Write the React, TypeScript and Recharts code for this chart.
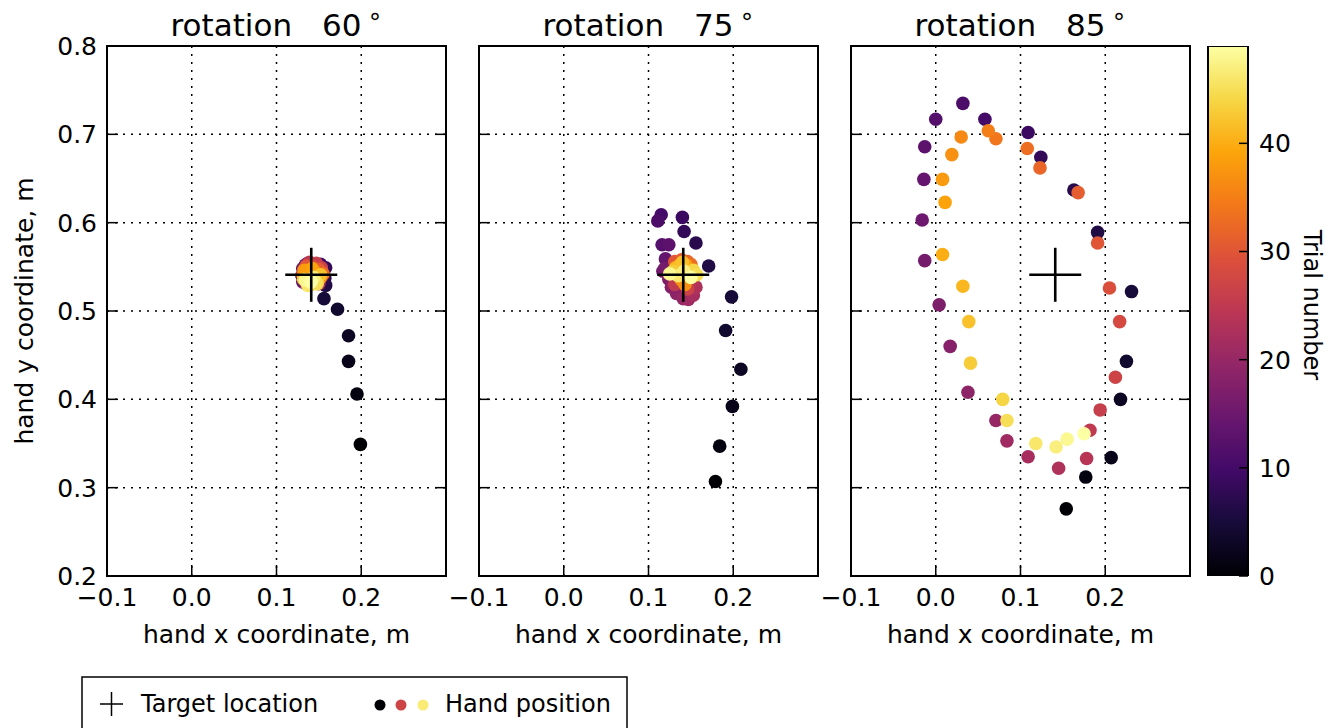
import React from 'react';
import {
  ScatterChart,
  Scatter,
  XAxis,
  YAxis,
  CartesianGrid,
  ReferenceArea,
  BarChart,
  Bar,
} from 'recharts';

// Axis ticks shared by the three panels
const xTicks = [-0.1, 0, 0.1, 0.2];
const yTicks = [0.2, 0.3, 0.4, 0.5, 0.6, 0.7, 0.8];
const trialTicks = [0, 10, 20, 30, 40];
const lastTrial = 49;

const target = [{ x: 0.141, y: 0.541 }];

// Hand end position per trial (index = trial number), [x, y] in metres
const hand60: [number, number][] = [
  [0.199, 0.349], [0.195, 0.406], [0.185, 0.443], [0.185, 0.472], [0.172, 0.502],
  [0.156, 0.514], [0.158, 0.529], [0.157, 0.537], [0.158, 0.549], [0.152, 0.553],
  [0.130, 0.540], [0.131, 0.548], [0.153, 0.545], [0.134, 0.552], [0.131, 0.533],
  [0.145, 0.553], [0.137, 0.554], [0.150, 0.536], [0.134, 0.545], [0.146, 0.549],
  [0.154, 0.540], [0.132, 0.538], [0.141, 0.553], [0.150, 0.531], [0.135, 0.531],
  [0.139, 0.555], [0.147, 0.554], [0.153, 0.549], [0.132, 0.547], [0.143, 0.550],
  [0.135, 0.551], [0.150, 0.547], [0.138, 0.546], [0.155, 0.542], [0.131, 0.541],
  [0.145, 0.545], [0.138, 0.540], [0.152, 0.538], [0.133, 0.546], [0.142, 0.548],
  [0.147, 0.535], [0.136, 0.534], [0.152, 0.541], [0.132, 0.536], [0.141, 0.530],
  [0.148, 0.531], [0.137, 0.529], [0.144, 0.538], [0.134, 0.535], [0.141, 0.533],
];

const hand75: [number, number][] = [
  [0.179, 0.307], [0.184, 0.347], [0.199, 0.392], [0.209, 0.434], [0.191, 0.478],
  [0.198, 0.516], [0.171, 0.551], [0.156, 0.577], [0.142, 0.590], [0.140, 0.606],
  [0.115, 0.609], [0.111, 0.602], [0.116, 0.575], [0.124, 0.575], [0.120, 0.559],
  [0.117, 0.545], [0.119, 0.548], [0.124, 0.536], [0.127, 0.527], [0.133, 0.520],
  [0.141, 0.514], [0.147, 0.513], [0.153, 0.518], [0.156, 0.527], [0.151, 0.534],
  [0.131, 0.530], [0.126, 0.542], [0.146, 0.525], [0.155, 0.540], [0.135, 0.553],
  [0.131, 0.556], [0.139, 0.558], [0.146, 0.556], [0.150, 0.553], [0.140, 0.548],
  [0.147, 0.544], [0.139, 0.535], [0.143, 0.530], [0.134, 0.543], [0.144, 0.552],
  [0.137, 0.552], [0.132, 0.549], [0.140, 0.555], [0.129, 0.545], [0.153, 0.546],
  [0.157, 0.541], [0.135, 0.540], [0.142, 0.545], [0.125, 0.542], [0.150, 0.538],
];

const hand85: [number, number][] = [
  [0.154, 0.276], [0.177, 0.312], [0.207, 0.334], [0.218, 0.400], [0.225, 0.443],
  [0.231, 0.522], [0.191, 0.589], [0.163, 0.637], [0.124, 0.674], [0.109, 0.702],
  [0.058, 0.717], [0.032, 0.735], [0.000, 0.717], [-0.013, 0.686], [-0.014, 0.649],
  [-0.016, 0.603], [-0.013, 0.557], [0.004, 0.507], [0.017, 0.460], [0.038, 0.408],
  [0.071, 0.376], [0.084, 0.353], [0.109, 0.335], [0.145, 0.322], [0.178, 0.333],
  [0.182, 0.365], [0.194, 0.388], [0.212, 0.425], [0.217, 0.488], [0.205, 0.526],
  [0.191, 0.577], [0.168, 0.634], [0.123, 0.662], [0.108, 0.684], [0.071, 0.695],
  [0.062, 0.704], [0.030, 0.697], [0.019, 0.677], [0.008, 0.649], [0.011, 0.623],
  [0.008, 0.564], [0.032, 0.528], [0.039, 0.488], [0.041, 0.441], [0.079, 0.400],
  [0.084, 0.376], [0.118, 0.350], [0.142, 0.346], [0.155, 0.355], [0.175, 0.361],
];

const rotations = [60, 75, 85];
const handSets = [hand60, hand75, hand85];

// matplotlib "inferno" sampled at 0, 0.1 ... 1
const INFERNO = [
  '#000004', '#160b39', '#420a68', '#6a176e', '#932667', '#bc3754',
  '#dd513a', '#f37819', '#fca50a', '#f6d746', '#fcffa4',
];

function inferno(t: number) {
  const s = Math.max(0, Math.min(1, t)) * 10;
  const i = Math.min(9, Math.floor(s));
  const f = s - i;
  const a = parseInt(INFERNO[i].slice(1), 16);
  const b = parseInt(INFERNO[i + 1].slice(1), 16);
  const ch = (v: number, sh: number) => (v >> sh) & 255;
  const mix = (sh: number) => Math.round(ch(a, sh) + (ch(b, sh) - ch(a, sh)) * f);
  return `rgb(${mix(16)},${mix(8)},${mix(0)})`;
}

const fmt = (v: number) => (v < 0 ? '\u2212' : '') + Math.abs(v).toFixed(1);
const blank = () => '';

// layout
const CHART_H = 660;
const PLOT_TOP = 46;
const PLOT_BOTTOM = 576;
const X_AXIS_H = 70;
const FONT = 'DejaVu Sans';
const FS = 25;

const panels = [
  { left: 0, width: 470, plotL: 107, plotR: 446 },
  { left: 440, width: 400, plotL: 479, plotR: 818 },
  { left: 810, width: 400, plotL: 851, plotR: 1190 },
];

const tickStyle = { fontSize: FS, fill: '#000', fontFamily: FONT };
const tickLine = { stroke: '#000', strokeWidth: 1.5 };

const HandDot = (p: any) => (
  <circle cx={p.cx} cy={p.cy} r={6.8} fill={inferno(p.payload.trial / lastTrial)} />
);

const TargetCross = (p: any) => (
  <g stroke="#000" strokeWidth={2.6}>
    <line x1={p.cx - 26} x2={p.cx + 26} y1={p.cy} y2={p.cy} />
    <line x1={p.cx} x2={p.cx} y1={p.cy - 27} y2={p.cy + 27} />
  </g>
);

function Panel({ idx }: { idx: number }) {
  const g = panels[idx];
  const showY = idx === 0;
  const yW = showY ? 60 : 1;
  const data = handSets[idx].map(([x, y], trial) => ({ x, y, trial }));
  return (
    <div style={{ position: 'absolute', left: g.left, top: 0 }}>
      <ScatterChart
        width={g.width}
        height={CHART_H}
        margin={{
          top: PLOT_TOP - 1,
          bottom: CHART_H - PLOT_BOTTOM - X_AXIS_H,
          left: g.plotL - g.left - yW,
          right: g.left + g.width - g.plotR - 1,
        }}
      >
        <CartesianGrid stroke="#000" strokeWidth={1.5} strokeDasharray="2 6" />
        <XAxis
          type="number"
          dataKey="x"
          domain={[-0.1, 0.3]}
          ticks={xTicks}
          interval={0}
          allowDataOverflow
          height={X_AXIS_H}
          axisLine={false}
          tickSize={-11}
          tickMargin={23}
          tickLine={tickLine}
          tick={tickStyle}
          tickFormatter={fmt}
          label={{
            value: 'hand x coordinate, m',
            position: 'insideBottom',
            offset: 3,
            style: { fontSize: FS, fill: '#000', fontFamily: FONT },
          }}
        />
        <XAxis
          xAxisId="top"
          orientation="top"
          type="number"
          domain={[-0.1, 0.3]}
          ticks={xTicks}
          interval={0}
          allowDataOverflow
          height={1}
          axisLine={false}
          tickSize={-11}
          tickLine={tickLine}
          tickFormatter={blank}
        />
        <YAxis
          type="number"
          dataKey="y"
          domain={[0.2, 0.8]}
          ticks={yTicks}
          interval={0}
          allowDataOverflow
          width={yW}
          axisLine={false}
          tickSize={-11}
          tickMargin={21}
          tickLine={tickLine}
          tick={tickStyle}
          tickFormatter={showY ? fmt : blank}
        />
        <YAxis
          yAxisId="right"
          orientation="right"
          type="number"
          domain={[0.2, 0.8]}
          ticks={yTicks}
          interval={0}
          allowDataOverflow
          width={1}
          axisLine={false}
          tickSize={-11}
          tickLine={tickLine}
          tickFormatter={blank}
        />
        <ReferenceArea
          x1={-0.1}
          x2={0.3}
          y1={0.2}
          y2={0.8}
          fill="none"
          fillOpacity={0}
          stroke="#000"
          strokeWidth={2}
        />
        <Scatter data={data} shape={HandDot} isAnimationActive={false} />
        <Scatter data={target} shape={TargetCross} isAnimationActive={false} />
      </ScatterChart>
    </div>
  );
}

function Colorbar() {
  return (
    <div style={{ position: 'absolute', left: 1190, top: 0 }}>
      <BarChart
        width={147}
        height={CHART_H}
        data={[{ name: 'trials', value: lastTrial }]}
        margin={{ top: PLOT_TOP, bottom: CHART_H - PLOT_BOTTOM, left: 18, right: 9 }}
        barCategoryGap={0}
      >
        <defs>
          <linearGradient id="infernoBar" x1="0" y1="1" x2="0" y2="0">
            {INFERNO.map((c, i) => (
              <stop key={c} offset={i / (INFERNO.length - 1)} stopColor={c} />
            ))}
          </linearGradient>
        </defs>
        <XAxis dataKey="name" hide />
        <Bar
          dataKey="value"
          fill="url(#infernoBar)"
          stroke="#000"
          strokeWidth={2}
          isAnimationActive={false}
        />
        <YAxis
          orientation="right"
          type="number"
          domain={[0, lastTrial]}
          ticks={trialTicks}
          interval={0}
          allowDataOverflow
          width={80}
          axisLine={false}
          tickSize={-9}
          tickMargin={20}
          tickLine={tickLine}
          tick={{ ...tickStyle, textAnchor: 'start' }}
        />
      </BarChart>
    </div>
  );
}

export default function App() {
  return (
    <div
      style={{
        position: 'fixed',
        left: 0,
        top: 0,
        width: 1337,
        height: 728,
        overflow: 'hidden',
        background: '#fff',
        fontFamily: FONT,
      }}
    >
      {rotations.map((r, i) => (
        <Panel key={r} idx={i} />
      ))}
      <Colorbar />
      <svg
        width={1337}
        height={728}
        style={{ position: 'absolute', left: 0, top: 0, pointerEvents: 'none' }}
        fontFamily={FONT}
      >
        {rotations.map((r, i) => (
          <text
            key={r}
            x={(panels[i].plotL + panels[i].plotR) / 2}
            y={36}
            textAnchor="middle"
            fontSize={31}
          >
            rotation
            <tspan dx={30}>{r}</tspan>
            <tspan fontSize={24} dy={-12} dx={6}>
              ∘
            </tspan>
          </text>
        ))}
        <text
          transform="translate(33 311) rotate(-90)"
          textAnchor="middle"
          fontSize={FS}
        >
          hand y coordinate, m
        </text>
        <text
          transform="translate(1304 305) rotate(90)"
          textAnchor="middle"
          fontSize={24}
        >
          Trial number
        </text>
        <g>
          <rect x={82} y={677} width={545} height={80} fill="#fff" stroke="#000" strokeWidth={1.5} />
          <g stroke="#000" strokeWidth={1.5}>
            <line x1={100} x2={123} y1={704} y2={704} />
            <line x1={111.5} x2={111.5} y1={692} y2={716} />
          </g>
          <text x={141} y={712} fontSize={24}>
            Target location
          </text>
          <circle cx={380} cy={705} r={5.5} fill={inferno(0)} />
          <circle cx={401} cy={705} r={5.5} fill={inferno(0.55)} />
          <circle cx={423} cy={705} r={5.5} fill={inferno(0.95)} />
          <text x={445} y={712} fontSize={24}>
            Hand position
          </text>
        </g>
      </svg>
    </div>
  );
}
